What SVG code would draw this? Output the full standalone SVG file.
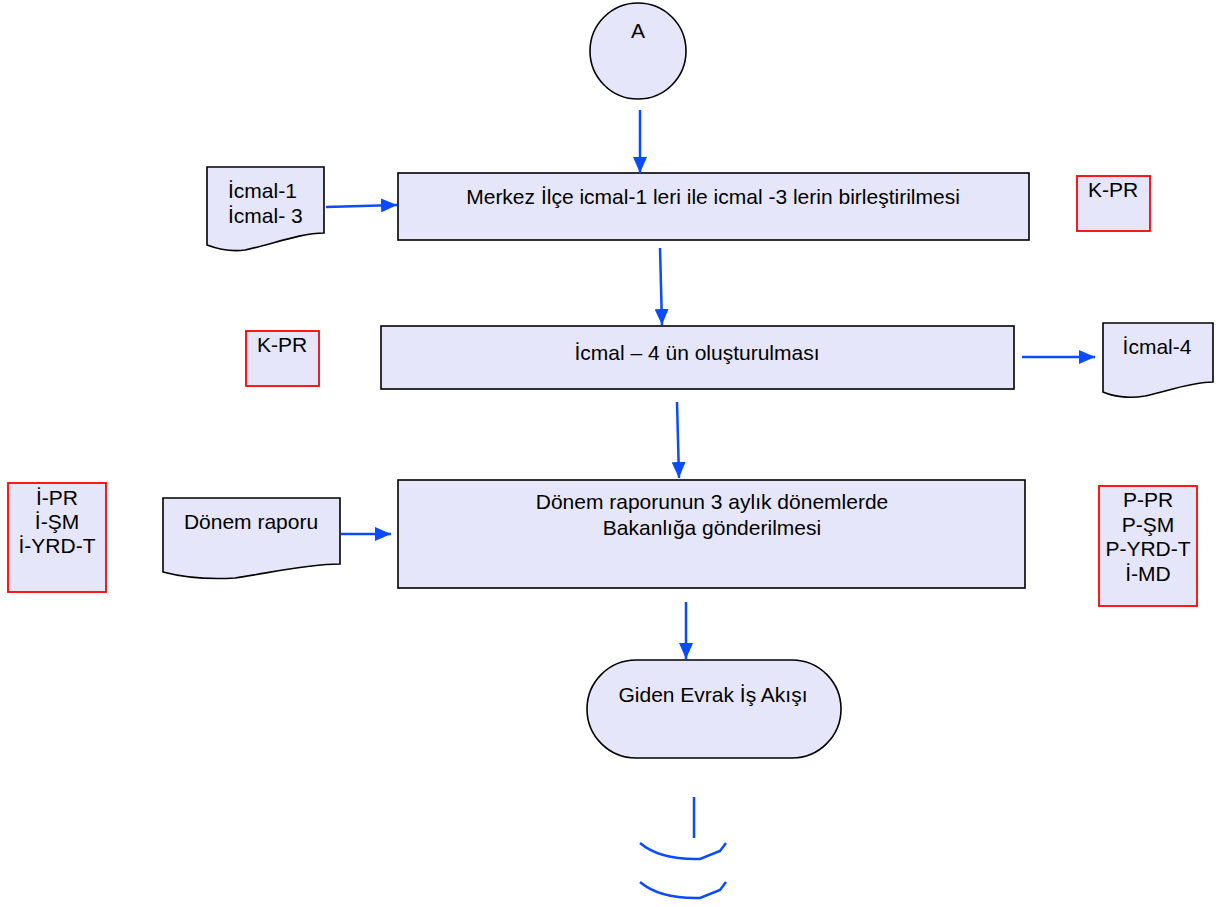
<svg xmlns="http://www.w3.org/2000/svg" width="1224" height="907" viewBox="0 0 1224 907">
<defs>
<marker id="ah" markerUnits="userSpaceOnUse" markerWidth="16" markerHeight="14" refX="16" refY="7" orient="auto">
<path d="M0,0 L16,7 L0,14 z" fill="#0a4bff"/>
</marker>
</defs>
<style>
.n{fill:#e6e6fa;stroke:#000;stroke-width:1.6}
.r{fill:#e6e6fa;stroke:#f00;stroke-width:1.8}
.t{font-family:"Liberation Sans",Arial,sans-serif;font-size:21px;fill:#000}
.m{text-anchor:middle}
.c{fill:none;stroke:#0a4bff;stroke-width:2.5}
</style>
<rect width="1224" height="907" fill="#fff"/>
<g id="start">
<circle class="n" cx="638" cy="51" r="48"/>
<text class="t m" x="638" y="38">A</text>
</g>
<g id="step1">
<rect class="n" x="398" y="173" width="631" height="67"/>
<text class="t m" x="713" y="204">Merkez İlçe icmal-1 leri ile icmal -3 lerin birleştirilmesi</text>
</g>
<g id="doc1">
<path class="n" d="M207,167 H324 V233 C300,233 270,245 245,250 C230,252 215,248 207,245 Z"/>
<text class="t" x="228" y="198">İcmal-1</text>
<text class="t" x="228" y="223">İcmal- 3</text>
</g>
<g id="kpr1">
<rect class="r" x="1077" y="176" width="73" height="55"/>
<text class="t m" x="1113" y="197">K-PR</text>
</g>
<g id="step2">
<rect class="n" x="381" y="326" width="633" height="63"/>
<text class="t m" x="697" y="360">İcmal – 4 ün oluşturulması</text>
</g>
<g id="kpr2">
<rect class="r" x="246" y="331" width="73" height="55"/>
<text class="t m" x="282" y="352">K-PR</text>
</g>
<g id="doc2">
<path class="n" d="M1103,323 H1213 V382 C1190,382 1165,392 1145,396 C1128,399 1112,396 1103,392 Z"/>
<text class="t m" x="1157" y="354">İcmal-4</text>
</g>
<g id="step3">
<rect class="n" x="398" y="480" width="627" height="108"/>
<text class="t m" x="712" y="509">Dönem raporunun 3 aylık dönemlerde</text>
<text class="t m" x="712" y="535">Bakanlığa gönderilmesi</text>
</g>
<g id="doc3">
<path class="n" d="M163,498 H340 V564 C305,564 265,574 235,578 C200,580 178,576 163,572 Z"/>
<text class="t m" x="251" y="529">Dönem raporu</text>
</g>
<g id="roles-left">
<rect class="r" x="8" y="483" width="98" height="109"/>
<text class="t m" x="57" y="505">İ-PR</text>
<text class="t m" x="57" y="529">İ-ŞM</text>
<text class="t m" x="57" y="553">İ-YRD-T</text>
</g>
<g id="roles-right">
<rect class="r" x="1099" y="486" width="98" height="120"/>
<text class="t m" x="1148" y="507">P-PR</text>
<text class="t m" x="1148" y="532">P-ŞM</text>
<text class="t m" x="1148" y="556">P-YRD-T</text>
<text class="t m" x="1148" y="581">İ-MD</text>
</g>
<g id="end">
<rect class="n" x="587" y="660" width="254" height="98" rx="49" ry="49"/>
<text class="t m" x="713" y="702">Giden Evrak İş Akışı</text>
</g>
<g id="connectors">
<line class="c" x1="640" y1="110" x2="640" y2="173" marker-end="url(#ah)"/>
<line class="c" x1="326" y1="207" x2="397" y2="205" marker-end="url(#ah)"/>
<line class="c" x1="660" y1="248" x2="662" y2="325" marker-end="url(#ah)"/>
<line class="c" x1="1022" y1="357" x2="1095" y2="357" marker-end="url(#ah)"/>
<line class="c" x1="677" y1="402" x2="679" y2="478" marker-end="url(#ah)"/>
<line class="c" x1="341" y1="534" x2="391" y2="534" marker-end="url(#ah)"/>
<line class="c" x1="686" y1="602" x2="686" y2="659" marker-end="url(#ah)"/>
<line class="c" x1="694" y1="797" x2="694" y2="838"/>
<path class="c" d="M640,843 Q660,860 700,859 L720,851 L726,843"/>
<path class="c" d="M640,882 Q660,899 700,898 L720,890 L726,882"/>
</g>
</svg>
